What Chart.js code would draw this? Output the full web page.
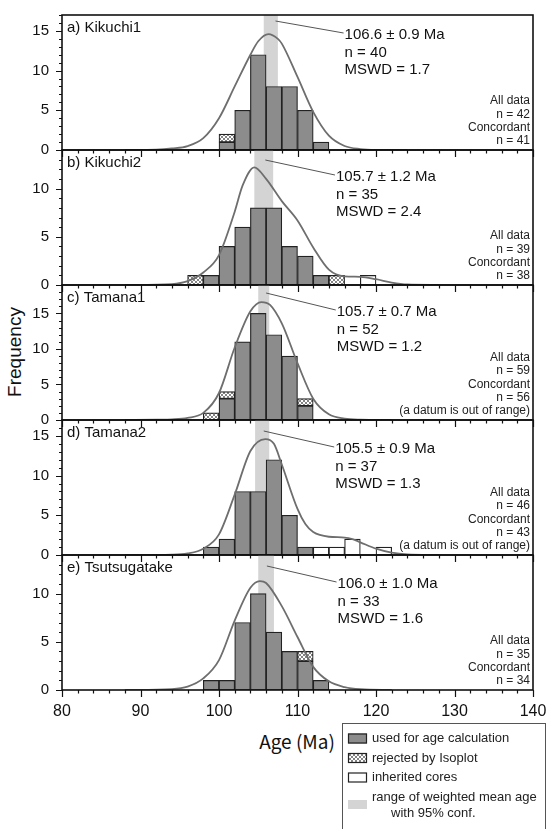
<!DOCTYPE html>
<html><head><meta charset="utf-8">
<script src="https://cdn.jsdelivr.net/npm/chart.js@4.4.0/dist/chart.umd.min.js"></script>
<style>
html,body{margin:0;padding:0;background:#fff;width:548px;height:829px;overflow:hidden;position:relative;font-family:"Liberation Sans",Arial,sans-serif;}
canvas{position:absolute;left:0;}
#freq{position:absolute;left:15px;top:352px;transform:translate(-50%,-50%) rotate(-90deg);font-size:19px;color:#111;white-space:nowrap;}
#age{position:absolute;left:297px;top:740px;transform:translate(-50%,-50%);font-size:19px;font-family:"Noto Sans CJK JP";color:#111;white-space:nowrap;}
</style></head><body>
<div id="freq">Frequency</div>
<div id="age">Age (Ma)</div>
<canvas id="legend" style="left:342px;top:723px"></canvas>
<script>
// ---- data ----
const binStarts = [96, 98, 100, 102, 104, 106, 108, 110, 112, 114, 116, 118, 120];

const usedA     = [0, 0, 1, 5, 12, 8, 8, 5, 1, 0, 0, 0, 0];
const rejectedA = [0, 0, 1, 0, 0, 0, 0, 0, 0, 0, 0, 0, 0];
const inheritA  = [0, 0, 0, 0, 0, 0, 0, 0, 0, 0, 0, 0, 0];

const usedB     = [0, 1, 4, 6, 8, 8, 4, 3, 1, 0, 0, 0, 0];
const rejectedB = [1, 0, 0, 0, 0, 0, 0, 0, 0, 1, 0, 0, 0];
const inheritB  = [0, 0, 0, 0, 0, 0, 0, 0, 0, 0, 0, 1, 0];

const usedC     = [0, 0, 3, 11, 15, 12, 9, 2, 0, 0, 0, 0, 0];
const rejectedC = [0, 1, 1, 0, 0, 0, 0, 1, 0, 0, 0, 0, 0];
const inheritC  = [0, 0, 0, 0, 0, 0, 0, 0, 0, 0, 0, 0, 0];

const usedD     = [0, 1, 2, 8, 8, 12, 5, 1, 0, 0, 0, 0, 0];
const rejectedD = [0, 0, 0, 0, 0, 0, 0, 0, 0, 0, 0, 0, 0];
const inheritD  = [0, 0, 0, 0, 0, 0, 0, 0, 1, 1, 2, 0, 1];

const usedE     = [0, 1, 1, 7, 10, 6, 4, 3, 1, 0, 0, 0, 0];
const rejectedE = [0, 0, 0, 0, 0, 0, 0, 1, 0, 0, 0, 0, 0];
const inheritE  = [0, 0, 0, 0, 0, 0, 0, 0, 0, 0, 0, 0, 0];

const curveAx = [88, 92, 94, 96, 98, 100, 102, 104, 105, 106.3, 107.5, 108, 110, 112, 114, 116, 118, 120, 124];
const curveAy = [0, 0.05, 0.2, 0.5, 1.5, 4, 8, 12, 13.7, 14.6, 14.0, 13.4, 9.2, 4.8, 1.8, 0.5, 0.12, 0.02, 0];
const curveBx = [88, 94, 96, 98, 100, 102, 103, 104.5, 106, 108, 110, 112, 114, 116, 118, 120, 122, 124, 128];
const curveBy = [0, 0.1, 0.4, 1.3, 3.1, 7.6, 10.3, 12.2, 11.0, 8.7, 6.7, 3.9, 1.6, 0.9, 0.85, 0.6, 0.25, 0.05, 0];
const curveCx = [88, 92, 94, 96, 98, 100, 102, 104, 105.4, 106.5, 108, 110, 112, 114, 116, 118, 122];
const curveCy = [0, 0.05, 0.1, 0.3, 1.0, 3.8, 10.2, 15.3, 16.6, 16.2, 13.6, 8.0, 3.0, 0.8, 0.2, 0.05, 0];
const curveDx = [88, 94, 96, 98, 100, 102, 104, 105.9, 107, 108, 110, 111, 112, 114, 116, 117, 118, 120, 122, 124, 128];
const curveDy = [0, 0.05, 0.2, 0.8, 2.6, 7.6, 13.1, 14.6, 14.0, 11.4, 5.8, 3.9, 2.9, 2.3, 2.2, 2.0, 1.6, 0.8, 0.3, 0.08, 0];
const curveEx = [88, 94, 96, 98, 100, 102, 104, 105.2, 106, 108, 110, 112, 114, 116, 118, 122];
const curveEy = [0, 0.1, 0.35, 1.2, 3.1, 7.2, 10.6, 11.3, 11.1, 8.7, 5.5, 2.4, 0.9, 0.3, 0.08, 0];

const panelNames = ['a) Kikuchi1', 'b) Kikuchi2', 'c) Tamana1', 'd) Tamana2', 'e) Tsutsugatake'];
const meanAge    = [106.6, 105.7, 105.7, 105.5, 106.0];
const ageErr     = [0.9, 1.2, 0.7, 0.9, 1.0];
const nUsed      = [40, 35, 52, 37, 33];
const mswd       = ['1.7', '2.4', '1.2', '1.3', '1.6'];
const nAll       = [42, 39, 59, 46, 35];
const nConc      = [41, 38, 56, 43, 34];
const outOfRange = [false, false, true, true, false];
const yMax       = [17, 14, 19, 17, 14];
const xTicks     = [80, 90, 100, 110, 120, 130, 140];

const usedAll = [usedA, usedB, usedC, usedD, usedE];
const rejAll  = [rejectedA, rejectedB, rejectedC, rejectedD, rejectedE];
const inhAll  = [inheritA, inheritB, inheritC, inheritD, inheritE];
const cxAll = [curveAx, curveBx, curveCx, curveDx, curveEx];
const cyAll = [curveAy, curveBy, curveCy, curveDy, curveEy];

// ---- layout / style (not data) ----
const panelTop = [15, 150, 285, 420, 555];
const panelH = 135, pad = 8;
const annot = [
  {lx: 107.2, ly: 6,  tx: 116.0, ty: 20},
  {lx: 105.9, ly: 10, tx: 114.9, ty: 27},
  {lx: 106.0, ly: 8,  tx: 115.0, ty: 27},
  {lx: 105.7, ly: 11, tx: 114.8, ty: 29},
  {lx: 106.1, ly: 11, tx: 115.1, ty: 29}
];
const FONT = '"Liberation Sans", Arial, sans-serif';

function hatchPattern() {
  const c = document.createElement('canvas'); c.width = c.height = 4;
  const g = c.getContext('2d');
  g.fillStyle = '#fff'; g.fillRect(0, 0, 4, 4);
  g.fillStyle = '#858585';
  [[0,0],[1,1],[2,2],[3,3],[3,0],[2,1],[1,2],[0,3]].forEach(([a,b]) => g.fillRect(a, b, 1, 1));
  return g.createPattern(c, 'repeat');
}
const HATCH = hatchPattern();

const decor = {
  id: 'decor',
  beforeDatasetsDraw(chart, args, o) {
    const {ctx, chartArea: ca, scales: {x}} = chart;
    ctx.save();
    ctx.fillStyle = '#d4d4d4';
    const x0 = x.getPixelForValue(o.mean - o.err), x1 = x.getPixelForValue(o.mean + o.err);
    ctx.fillRect(x0, ca.top, x1 - x0, ca.bottom - ca.top);
    ctx.restore();
  },
  afterDatasetsDraw(chart, args, o) {
    const {ctx, chartArea: ca, scales: {x, y}} = chart;
    ctx.save();
    ctx.strokeStyle = '#111'; ctx.lineWidth = 1.2;
    ctx.beginPath();
    for (let v = 80; v <= 140; v += 2) {
      const px = Math.round(x.getPixelForValue(v)) + 0.5;
      const L = v % 10 === 0 ? 7 : 3.5;
      ctx.moveTo(px, ca.bottom); ctx.lineTo(px, ca.bottom + L);
    }
    for (let v = 0; v <= Math.floor(y.max); v++) {
      const py = Math.round(y.getPixelForValue(v)) + 0.5;
      const L = v % 5 === 0 ? 6 : 3;
      ctx.moveTo(ca.left, py); ctx.lineTo(ca.left - L, py);
    }
    ctx.stroke();
    ctx.lineWidth = 1.6;
    ctx.strokeRect(ca.left, ca.top, ca.right - ca.left, ca.bottom - ca.top);

    ctx.fillStyle = '#111';
    ctx.textBaseline = 'middle';
    ctx.textAlign = 'left';
    ctx.font = '15px ' + FONT;
    ctx.fillText(o.name, ca.left + 5, ca.top + 13);

    // leader + stats
    const a = o.annot;
    const tpx = x.getPixelForValue(a.tx);
    ctx.strokeStyle = '#555'; ctx.lineWidth = 1;
    ctx.beginPath();
    ctx.moveTo(x.getPixelForValue(a.lx), ca.top + a.ly);
    ctx.lineTo(tpx - 1, ca.top + a.ty - 2);
    ctx.stroke();
    const stats = [o.mean.toFixed(1) + ' \u00b1 ' + o.err.toFixed(1) + ' Ma', 'n = ' + o.n, 'MSWD = ' + o.mswd];
    stats.forEach((s, i) => ctx.fillText(s, tpx, ca.top + a.ty + i * 17.5));

    // right info
    const lines = ['All data', 'n = ' + o.all, 'Concordant', 'n = ' + o.conc];
    if (o.out) lines.push('(a datum is out of range)');
    ctx.font = '12px ' + FONT;
    ctx.textAlign = 'right';
    ctx.fillStyle = '#222';
    const n = lines.length;
    lines.forEach((s, i) => ctx.fillText(s, ca.right - 3, ca.bottom - 9 - (n - 1 - i) * 13.3));
    ctx.restore();
  }
};

function xy(arr) { return binStarts.map((s, i) => ({x: s + 1, y: arr[i] ? arr[i] : null})); }

for (let i = 0; i < 5; i++) {
  const last = i === 4;
  const c = document.createElement('canvas');
  const h = panelH + pad + (last ? 40 : pad);
  c.width = 548; c.height = h;
  c.style.top = (panelTop[i] - pad) + 'px';
  c.style.width = '548px'; c.style.height = h + 'px';
  document.body.appendChild(c);
  const barCommon = {borderColor: '#222', borderWidth: 1.2, borderSkipped: false, barPercentage: 1, categoryPercentage: 1, order: 1, stack: 's'};
  new Chart(c, {
    type: 'bar',
    data: {
      datasets: [
        Object.assign({label: 'used for age calculation', data: xy(usedAll[i]), backgroundColor: '#8c8c8c'}, barCommon),
        Object.assign({label: 'rejected by Isoplot', data: xy(rejAll[i]), backgroundColor: HATCH}, barCommon),
        Object.assign({label: 'inherited cores', data: xy(inhAll[i]), backgroundColor: '#ffffff'}, barCommon),
        {type: 'line', label: 'probability', data: cxAll[i].map((v, k) => ({x: v, y: cyAll[i][k]})),
         borderColor: '#6e6e6e', borderWidth: 1.8, pointRadius: 0, fill: false, cubicInterpolationMode: 'monotone', order: 0}
      ]
    },
    options: {
      responsive: false, animation: false, devicePixelRatio: 1,
      layout: {padding: {left: 0, right: 15, top: pad, bottom: last ? 0 : pad}},
      plugins: {
        legend: {display: false}, tooltip: {enabled: false},
        decor: {name: panelNames[i], mean: meanAge[i], err: ageErr[i], n: nUsed[i], mswd: mswd[i],
                all: nAll[i], conc: nConc[i], out: outOfRange[i], annot: annot[i]}
      },
      scales: {
        x: {type: 'linear', min: 80, max: 140, offset: false, stacked: true,
            afterBuildTicks: s => { s.ticks = xTicks.map(v => ({value: v})); },
            afterFit: s => { s.height = last ? 40 : 0; s.paddingLeft = 0; s.paddingRight = 0; },
            ticks: {display: last, padding: 12, color: '#111', font: {size: 16, family: FONT}, maxRotation: 0, autoSkip: false},
            grid: {display: false, drawTicks: false}, border: {display: false}},
        y: {type: 'linear', min: 0, max: yMax[i], stacked: true,
            afterBuildTicks: s => { s.ticks = s.ticks.filter(t => t.value % 5 === 0); },
            afterFit: s => { s.width = 62; s.paddingTop = 0; s.paddingBottom = 0; },
            ticks: {stepSize: 5, padding: 13, color: '#111', font: {size: 15, family: FONT}},
            grid: {display: false, drawTicks: false}, border: {display: false}}
      }
    },
    plugins: [decor]
  });
}

// legend box
(function () {
  const lc = document.getElementById('legend');
  lc.width = 206; lc.height = 106;
  const g = lc.getContext('2d');
  g.strokeStyle = '#555'; g.lineWidth = 1;
  g.strokeRect(0.5, 0.5, 203, 130);
  const rows = [
    {fill: '#8c8c8c', y: 15.5, text: 'used for age calculation'},
    {fill: HATCH, y: 35, text: 'rejected by Isoplot'},
    {fill: '#ffffff', y: 54.5, text: 'inherited cores'}
  ];
  g.font = '13px ' + FONT; g.textBaseline = 'middle'; g.textAlign = 'left';
  rows.forEach(r => {
    g.fillStyle = r.fill; g.fillRect(6, r.y - 5, 19, 10);
    g.strokeStyle = '#222'; g.lineWidth = 1.2; g.strokeRect(6.5, r.y - 4.5, 18, 9);
    g.fillStyle = '#222'; g.fillText(r.text, 30, r.y);
  });
  g.fillStyle = '#d4d4d4'; g.fillRect(6, 77, 19, 9);
  g.fillStyle = '#222';
  g.fillText('range of weighted mean age', 30, 74.5);
  g.fillText('with 95% conf.', 49, 90);
})();
</script>
</body></html>
